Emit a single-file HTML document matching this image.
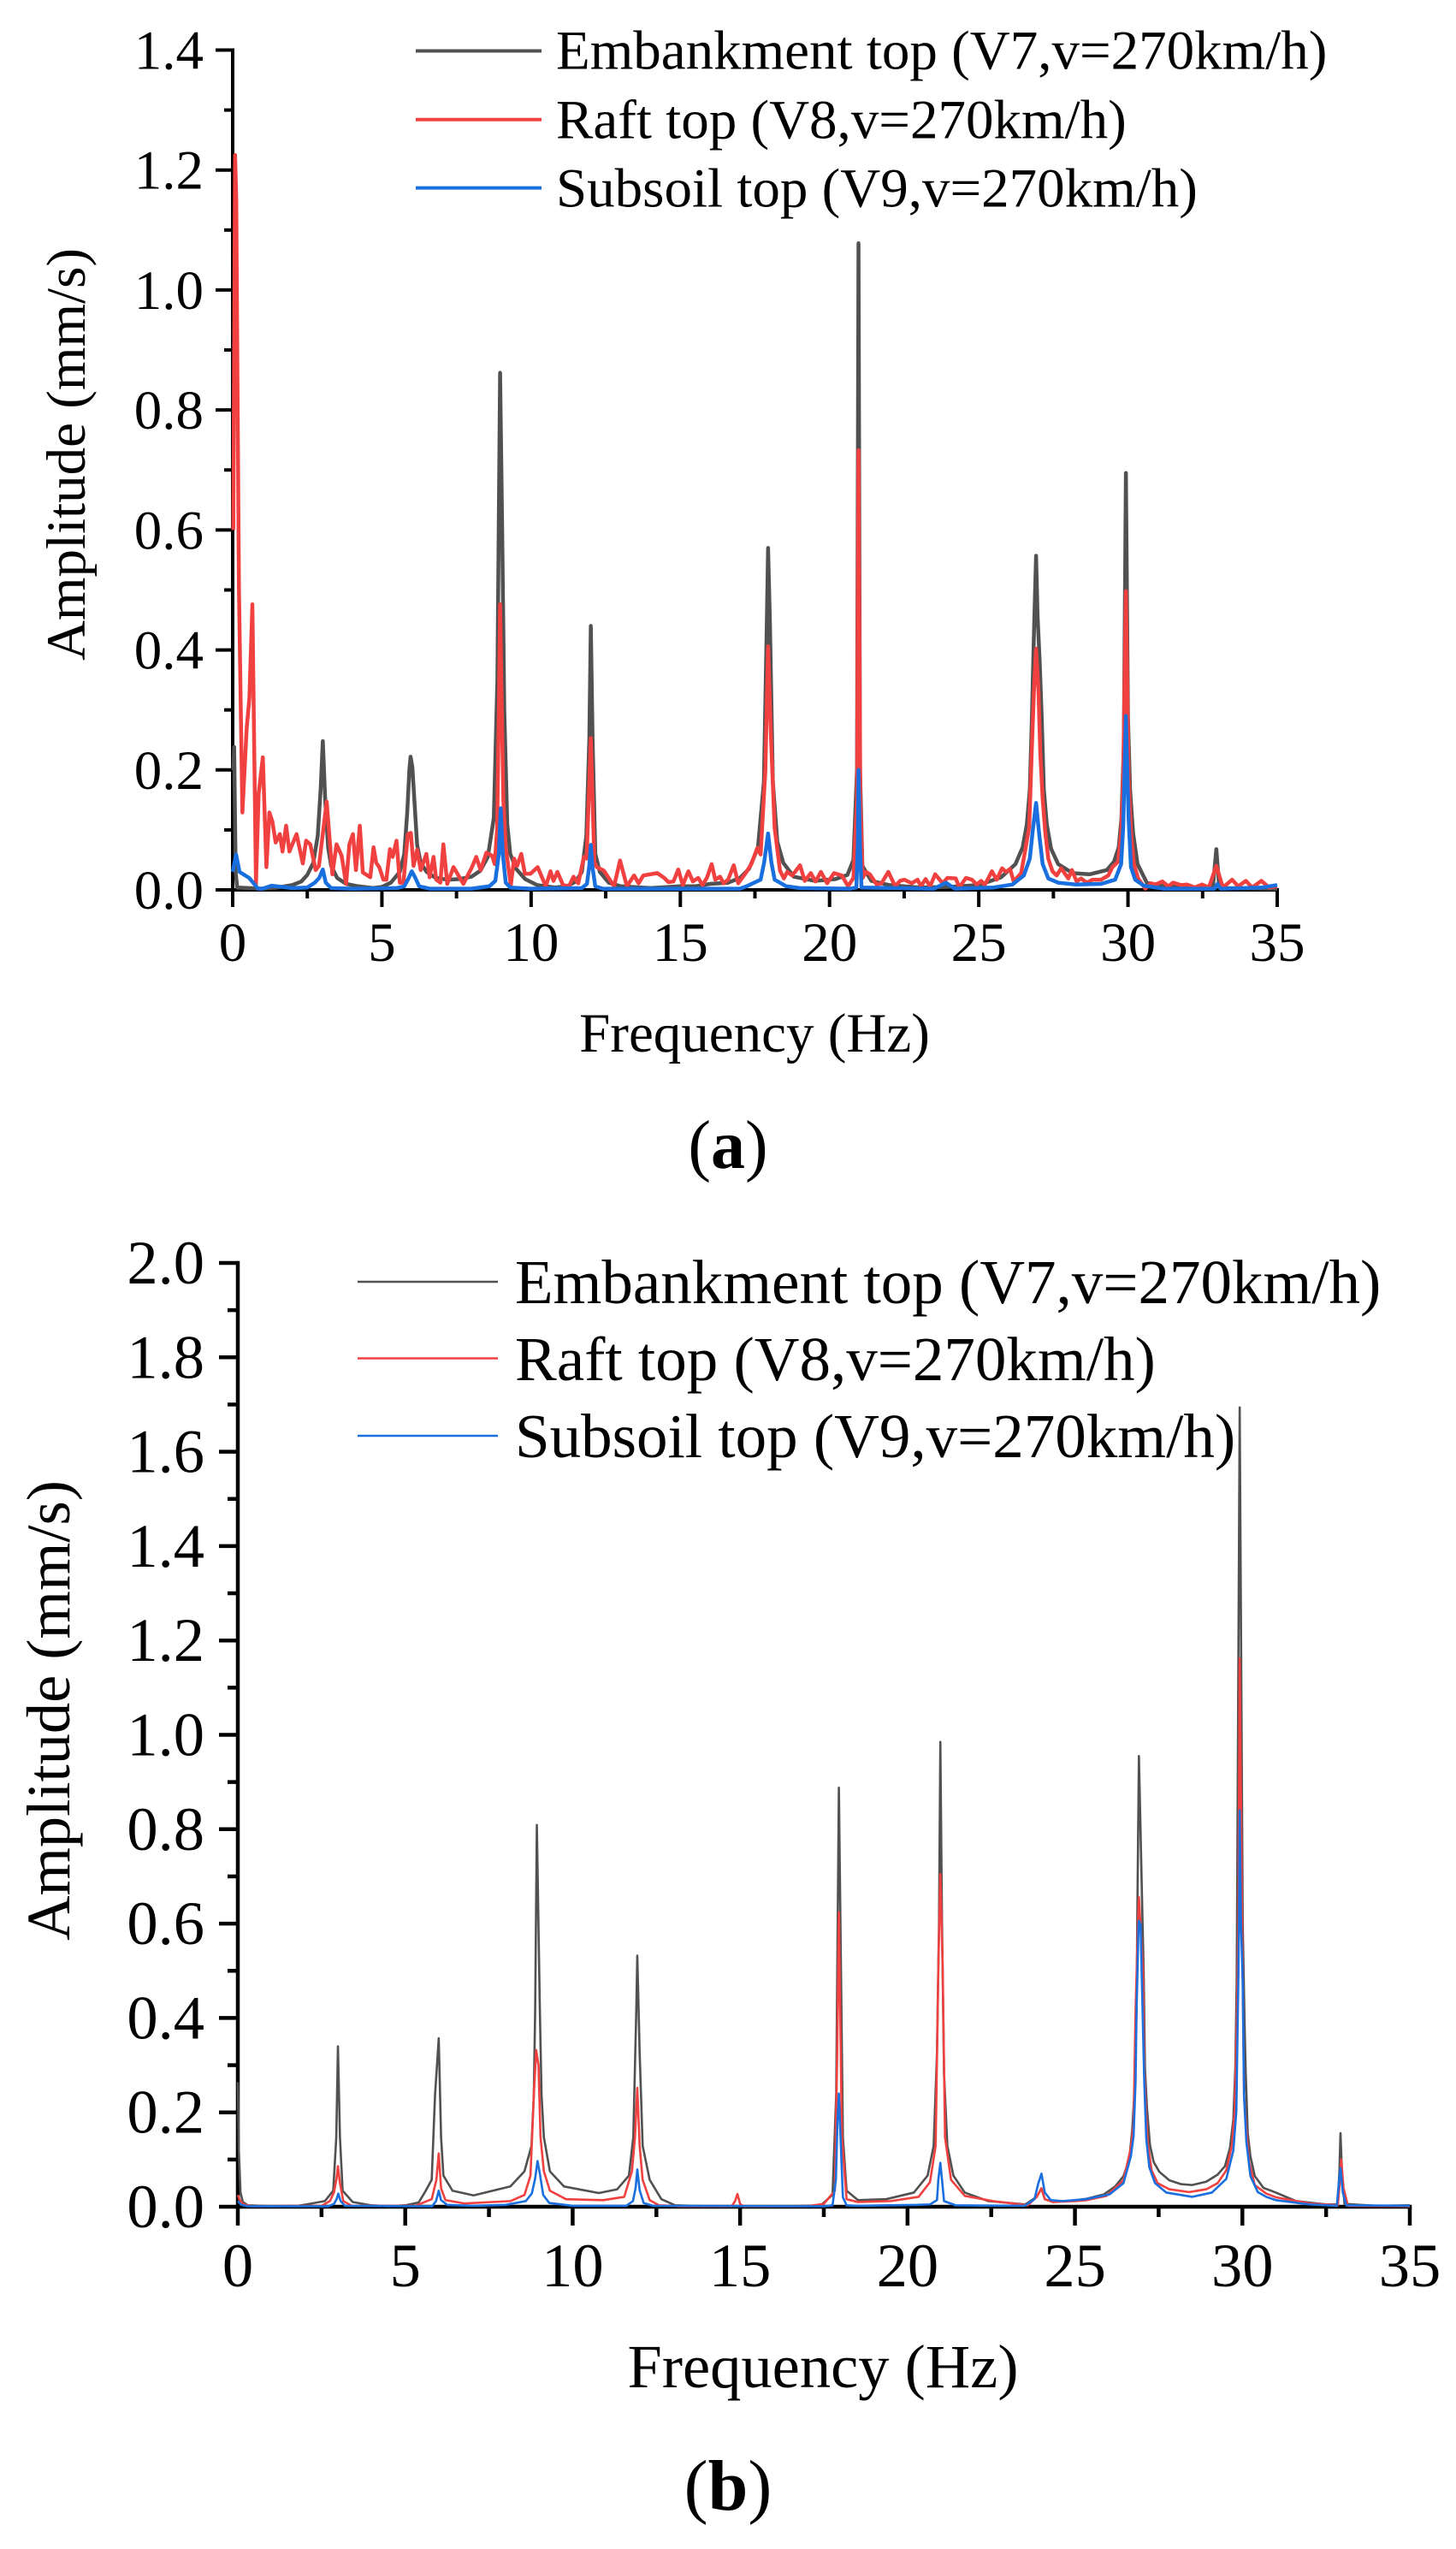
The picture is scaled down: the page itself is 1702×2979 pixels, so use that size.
<!DOCTYPE html>
<html lang="en">
<head>
<meta charset="utf-8">
<title>Amplitude spectra at V7, V8 and V9</title>
<style>
html,body{margin:0;padding:0;background:#fff;}
svg{display:block;}
text{font-family:"Liberation Serif",serif;fill:#000;}
</style>
</head>
<body>
<svg id="figure" xmlns="http://www.w3.org/2000/svg" width="1702" height="2979" viewBox="0 0 1702 2979">
  <rect width="1702" height="2979" fill="#ffffff"/>

  <g id="panel-a">
    <g id="axes-a"></g>
    <g id="series-a"></g>
    <text transform="translate(99,531) rotate(-90)" text-anchor="middle" font-size="65">Amplitude (mm/s)</text>
    <text x="882" y="1229" text-anchor="middle" font-size="65">Frequency (Hz)</text>
    <g>
      <line x1="486" x2="633" y1="59.5" y2="59.5" stroke="#515151" stroke-width="4"/>
      <text x="650" y="80.5" font-size="65">Embankment top (V7,v=270km/h)</text>
      <line x1="486" x2="633" y1="139.7" y2="139.7" stroke="#F14040" stroke-width="4"/>
      <text x="650" y="161.5" font-size="65">Raft top (V8,v=270km/h)</text>
      <line x1="486" x2="633" y1="219.6" y2="219.6" stroke="#1A6FDF" stroke-width="4"/>
      <text x="650" y="241.5" font-size="65">Subsoil top (V9,v=270km/h)</text>
    </g>
    <text x="851" y="1365" text-anchor="middle" font-size="80">(<tspan font-weight="bold">a</tspan>)</text>
  </g>

  <g id="panel-b">
    <g id="axes-b"></g>
    <g id="series-b"></g>
    <text transform="translate(81,1999) rotate(-90)" text-anchor="middle" font-size="72.5">Amplitude (mm/s)</text>
    <text x="962" y="2790" text-anchor="middle" font-size="72.5">Frequency (Hz)</text>
    <g>
      <line x1="418" x2="582" y1="1498" y2="1498" stroke="#515151" stroke-width="2.6"/>
      <text x="602" y="1523" font-size="73">Embankment top (V7,v=270km/h)</text>
      <line x1="418" x2="582" y1="1587.5" y2="1587.5" stroke="#F14040" stroke-width="2.6"/>
      <text x="602" y="1613" font-size="73">Raft top (V8,v=270km/h)</text>
      <line x1="418" x2="582" y1="1678" y2="1678" stroke="#1A6FDF" stroke-width="2.6"/>
      <text x="602" y="1703" font-size="73">Subsoil top (V9,v=270km/h)</text>
    </g>
    <text x="851" y="2933" text-anchor="middle" font-size="84">(<tspan font-weight="bold">b</tspan>)</text>
  </g>
</svg>
<script>
/* ---------- tick labels ---------- */
const xTickValues = [0, 5, 10, 15, 20, 25, 30, 35];
const xTickLabels = ["0", "5", "10", "15", "20", "25", "30", "35"];
const xMinorValues = [2.5, 7.5, 12.5, 17.5, 22.5, 27.5, 32.5];
const yTickValuesA = [0, 0.2, 0.4, 0.6, 0.8, 1.0, 1.2, 1.4];
const yTickLabelsA = ["0.0", "0.2", "0.4", "0.6", "0.8", "1.0", "1.2", "1.4"];
const yMinorValuesA = [0.1, 0.3, 0.5, 0.7, 0.9, 1.1, 1.3];
const yTickValuesB = [0, 0.2, 0.4, 0.6, 0.8, 1.0, 1.2, 1.4, 1.6, 1.8, 2.0];
const yTickLabelsB = ["0.0", "0.2", "0.4", "0.6", "0.8", "1.0", "1.2", "1.4", "1.6", "1.8", "2.0"];
const yMinorValuesB = [0.1, 0.3, 0.5, 0.7, 0.9, 1.1, 1.3, 1.5, 1.7, 1.9];

/* ---------- panel (a) series, frequency in Hz / amplitude in mm/s ---------- */
const embankmentAFreq = [0.02,0.05,0.1,0.15,1,1.5,2,2.3,2.5,2.7,2.85,2.95,3.02,3.1,3.2,3.3,3.5,3.8,4.2,4.7,5,5.3,5.6,5.75,5.85,5.92,5.96,6.02,6.1,6.18,6.3,6.5,6.8,7.2,7.6,8,8.3,8.55,8.75,8.87,8.96,9.03,9.1,9.2,9.3,9.5,9.8,10.2,10.8,11.2,11.5,11.7,11.85,11.95,12,12.06,12.15,12.3,12.6,13,14,15,15.5,16,16.6,17,17.3,17.6,17.8,17.9,17.94,18,18.1,18.25,18.45,18.8,19.5,20.2,20.6,20.8,20.92,20.97,21.02,21.1,21.4,22,23,24,
  25,25.75,26.23,26.47,26.61,26.71,26.78,26.85,26.92,26.97,27.04,27.11,27.18,27.28,27.42,27.66,28.14,28.71,29.29,29.53,29.69,29.78,29.86,29.93,30,30.07,30.17,30.32,30.63,31.2,
  32,32.7,32.85,32.96,33.05,33.2,35];
const embankmentAAmp = [0.2,0.238,0.03,0.004,0.002,0.004,0.008,0.014,0.025,0.045,0.09,0.17,0.248,0.15,0.07,0.04,0.02,0.01,0.006,0.003,0.005,0.012,0.03,0.06,0.13,0.2,0.222,0.205,0.14,0.075,0.045,0.03,0.02,0.017,0.018,0.022,0.032,0.055,0.12,0.35,0.862,0.6,0.3,0.11,0.06,0.035,0.018,0.008,0.004,0.006,0.014,0.03,0.09,0.25,0.44,0.25,0.06,0.03,0.012,0.006,0.003,0.006,0.006,0.01,0.012,0.02,0.035,0.07,0.18,0.45,0.57,0.45,0.18,0.08,0.045,0.022,0.015,0.018,0.025,0.05,0.2,1.078,0.2,0.04,0.015,0.008,0.004,0.005,
  0.008,0.021,0.043,0.071,0.109,0.167,0.286,0.429,0.557,0.457,0.381,0.286,0.167,0.109,0.069,0.043,0.028,0.026,0.033,0.047,0.071,0.119,0.238,0.695,0.286,0.167,0.095,0.043,0.012,0.006,
  0.004,0.004,0.008,0.068,0.01,0.003,0.002];

const raftAFreq = [0.02,0.08,0.12,0.16,0.21,0.325,0.47,0.56,0.66,0.78,0.87,1.01,1.13,1.23,1.33,1.44,1.58,1.67,1.79,1.9,2.14,2.35,2.46,2.6,2.78,2.89,3.15,3.34,3.48,3.65,3.8,3.91,4.03,4.13,4.26,4.36,4.61,4.72,4.81,4.91,5.05,5.15,5.27,5.36,5.49,5.6,5.72,5.87,5.97,6.06,6.18,6.3,6.49,6.6,6.73,6.82,6.96,7.06,7.19,7.4,7.73,8.02,8.16,8.31,8.5,8.69,
  8.78,8.86,8.92,8.96,9,9.07,9.15,9.32,
  9.43,9.53,9.67,9.79,9.98,10.22,10.49,10.65,10.75,10.88,11.07,11.27,11.42,11.58,11.77,11.86,12,12.12,12.2,12.44,12.78,12.98,13.21,13.45,13.6,13.76,14.23,14.46,14.6,14.77,14.93,15.08,15.27,15.42,15.6,15.74,15.89,16.05,16.17,16.33,16.45,16.6,16.79,16.94,17.19,17.38,17.58,17.69,17.85,17.94,18.04,18.16,18.34,18.47,18.58,18.75,19.01,19.17,19.37,19.53,19.71,19.92,20.15,20.41,20.62,20.8,20.92,20.97,21.03,21.11,21.22,21.35,21.58,21.74,21.97,22.2,22.36,22.51,22.75,22.95,23.06,23.22,23.37,23.54,23.79,23.95,24.23,24.35,24.57,24.77,24.93,25.08,25.2,25.44,25.6,25.78,25.91,26.05,26.17,
  26.42,26.56,26.69,26.78,26.85,26.92,27,27.06,27.14,27.23,27.33,27.47,27.61,27.76,28,28.12,28.28,28.43,28.62,28.81,29.1,29.34,29.48,29.67,29.77,29.84,29.93,30.02,30.1,30.2,30.34,30.58,
  30.76,30.92,31.15,31.35,31.51,31.78,31.98,32.24,32.48,32.71,32.96,33.18,33.49,33.69,33.95,34.16,34.47,34.73,35];
const raftAAmp = [0.6,1.225,1.15,0.85,0.5,0.129,0.27,0.32,0.476,0.01,0.16,0.221,0.038,0.129,0.114,0.079,0.093,0.064,0.107,0.064,0.093,0.044,0.082,0.076,0.033,0.04,0.147,0.026,0.076,0.057,0.01,0.076,0.093,0.033,0.107,0.029,0.021,0.071,0.045,0.038,0.017,0.017,0.068,0.055,0.082,0.012,0.012,0.093,0.095,0.04,0.067,0.033,0.06,0.021,0.055,0.017,0.012,0.076,0.01,0.038,0.01,0.038,0.055,0.033,0.062,0.057,
  0.043,0.1,0.3,0.476,0.35,0.15,0.07,0.008,
  0.052,0.04,0.06,0.027,0.027,0.038,0.006,0.031,0.015,0.03,0.008,0.006,0.022,0.011,0.055,0.052,0.253,0.046,0.038,0.032,0.006,0.049,0.006,0.024,0.011,0.024,0.028,0.02,0.013,0.014,0.034,0.008,0.031,0.014,0.02,0.008,0.02,0.043,0.017,0.022,0.011,0.017,0.041,0.011,0.028,0.043,0.07,0.059,0.2,0.406,0.25,0.103,0.032,0.019,0.03,0.024,0.041,0.015,0.028,0.014,0.03,0.011,0.028,0.024,0.006,0.02,0.15,0.733,0.15,0.02,0.03,0.026,0.009,0.011,0.03,0.006,0.015,0.017,0.011,0.017,0.006,0.018,0.006,0.026,0.011,0.02,0.019,0.004,0.02,0.017,0.009,0.015,0.008,0.031,0.017,0.036,0.03,0.035,0.014,
  0.028,0.067,0.105,0.238,0.333,0.402,0.333,0.229,0.152,0.095,0.052,0.031,0.024,0.036,0.019,0.033,0.014,0.019,0.012,0.017,0.017,0.024,0.038,0.047,0.095,0.19,0.498,0.19,0.095,0.043,0.019,0.002,
  0.011,0.009,0.014,0.006,0.012,0.008,0.009,0.004,0.009,0.004,0.04,0.004,0.017,0.006,0.015,0.004,0.015,0.004,0.006];

const subsoilAFreq = [0,0.115,0.23,0.55,0.85,1,1.3,2,2.5,2.75,2.9,3.02,3.12,3.3,4,5.5,5.75,5.9,6,6.1,6.25,6.6,8,8.6,8.8,8.92,8.98,9.05,9.15,9.3,10,11.7,11.87,11.95,12,12.05,12.15,12.4,
  17,17.22,17.69,17.81,17.94,18.05,18.16,18.55,19,
  20.7,20.9,20.95,20.97,21.02,21.07,23.5,23.9,24.2,
  25.5,26.13,26.51,26.71,26.8,26.92,27.02,27.14,27.33,27.66,28.24,29.1,29.57,29.77,29.84,29.93,30.02,30.1,30.24,30.53,31.2,
  32.9,33,33.1,34.5,35];
const subsoilAAmp = [0.03,0.059,0.03,0.02,0.002,0.002,0.007,0.003,0.004,0.012,0.02,0.034,0.012,0.003,0.002,0.003,0.006,0.02,0.031,0.022,0.006,0.002,0.002,0.006,0.015,0.06,0.136,0.06,0.012,0.004,0.002,0.003,0.01,0.04,0.075,0.04,0.006,0.002,
  0.002,0.006,0.017,0.046,0.094,0.046,0.017,0.006,0.003,
  0.002,0.004,0.08,0.2,0.07,0.004,0.002,0.012,0.002,
  0.004,0.009,0.024,0.052,0.095,0.145,0.095,0.043,0.019,0.012,0.009,0.01,0.017,0.043,0.105,0.29,0.119,0.038,0.017,0.007,0.002,
  0.002,0.01,0.002,0.004,0.008];

/* ---------- panel (b) series ---------- */
const embankmentBFreq = [0,0.03,0.08,0.15,0.3,1,1.8,
  2.05,2.6,2.85,2.94,2.99,3.05,3.13,3.43,3.99,4.5,
  5,5.4,5.58,5.79,5.89,6,6.07,6.14,6.41,7.04,
  8.14,8.56,8.77,8.84,8.88,8.93,9.02,9.07,9.14,9.32,9.74,
  10.78,11.33,11.68,11.81,11.9,11.93,12,12.09,12.3,12.65,13.06,
  14,16.5,
  17.41,17.76,17.87,17.95,18.07,18.18,18.52,19.36,
  20.19,20.6,20.78,20.88,20.94,20.98,21.03,21.09,21.19,21.37,21.71,22.41,23.52,
  23.86,24,24.1,24.35,25.04,25.35,25.86,
  26.2,26.45,26.62,26.71,26.77,26.84,26.86,26.91,27.02,27.05,27.09,27.15,27.24,27.35,27.52,27.82,28.16,28.5,28.92,29.26,29.48,29.63,29.73,29.79,29.83,29.84,29.92,30.01,30.07,30.1,30.16,30.24,30.37,30.63,31,31.6,32.5,32.85,
  32.9,32.93,32.97,33.05,34,35];
const embankmentBAmp = [0.264,0.12,0.03,0.01,0.003,0.001,0.002,
  0.005,0.012,0.034,0.147,0.34,0.147,0.034,0.01,0.003,0.001,
  0.003,0.009,0.03,0.057,0.237,0.357,0.147,0.066,0.034,0.024,
  0.043,0.075,0.129,0.237,0.417,0.809,0.417,0.237,0.147,0.075,0.043,
  0.029,0.037,0.066,0.147,0.417,0.532,0.327,0.129,0.057,0.016,0.003,
  0.001,0.001,
  0.003,0.025,0.237,0.888,0.147,0.034,0.014,0.016,
  0.03,0.066,0.129,0.327,0.597,0.985,0.597,0.282,0.129,0.066,0.03,0.012,0.005,
  0.021,0.039,0.016,0.01,0.014,0.017,0.026,
  0.043,0.065,0.1,0.162,0.234,0.415,0.597,0.955,0.597,0.506,0.294,0.21,0.131,0.095,0.074,0.056,0.048,0.046,0.053,0.068,0.086,0.125,0.185,0.294,0.476,0.597,1.694,0.597,0.373,0.282,0.156,0.107,0.065,0.04,0.03,0.012,0.005,0.005,
  0.08,0.156,0.08,0.006,0.002,0.003];

const raftBFreq = [0,0.05,0.15,0.4,2.5,2.75,2.87,2.95,2.99,3.05,3.15,3.4,
  5.3,5.79,5.93,6,6.07,6.2,6.76,
  8.14,8.56,8.74,8.84,8.91,8.98,9.04,9.14,9.32,9.8,10.91,11.54,11.77,11.86,11.93,12,12.09,12.3,12.58,13.2,
  14.75,14.85,14.92,15,15.1,17,
  17.5,17.83,17.9,17.95,18.04,18.18,18.52,19.5,20.33,20.67,20.84,20.92,20.98,21.05,21.12,21.3,21.71,22.55,23.59,
  23.86,24,24.1,24.35,25.04,25.35,25.94,
  26.45,26.67,26.75,26.81,26.88,26.91,27.03,27.07,27.12,27.18,27.29,27.47,27.82,28.41,28.92,29.26,29.52,29.69,29.77,29.84,29.88,29.92,29.99,30.05,30.12,30.2,30.37,30.71,31,32,32.85,
  32.92,32.95,33.02,33.15,35];
const raftBAmp = [0.025,0.015,0.006,0.001,0.002,0.012,0.03,0.06,0.086,0.05,0.012,0.002,
  0.002,0.016,0.057,0.113,0.039,0.014,0.007,
  0.012,0.025,0.066,0.237,0.332,0.3,0.147,0.075,0.034,0.016,0.014,0.021,0.075,0.147,0.252,0.129,0.057,0.014,0.003,0.001,
  0.001,0.012,0.027,0.006,0.001,0.001,
  0.006,0.034,0.327,0.624,0.147,0.016,0.01,0.012,0.021,0.052,0.129,0.507,0.705,0.507,0.147,0.057,0.023,0.012,0.003,
  0.021,0.039,0.016,0.01,0.012,0.014,0.023,
  0.056,0.125,0.174,0.415,0.597,0.656,0.506,0.294,0.203,0.131,0.077,0.05,0.037,0.031,0.037,0.05,0.077,0.131,0.203,0.415,0.597,1.162,0.597,0.234,0.162,0.095,0.046,0.028,0.02,0.007,0.003,
  0.06,0.1,0.04,0.002,0.001];

const subsoilBFreq = [0,0.1,0.3,2.7,2.87,2.95,3,3.07,3.2,5.8,5.92,6,6.07,6.25,7,8,
  8.6,8.78,8.88,8.95,9.02,9.12,9.3,10,11.6,11.8,11.88,11.93,12,12.12,12.4,
  17.5,17.76,17.86,17.91,17.95,18,18.07,18.18,18.5,
  20.3,20.67,20.88,20.92,20.98,21.03,21.09,21.44,23.5,
  23.79,23.9,24,24.1,24.28,24.63,25.32,26.03,
  26.45,26.67,26.75,26.81,26.84,26.9,26.91,26.96,27.01,27.07,27.13,27.22,27.39,27.73,28.5,29.09,29.52,29.73,29.82,29.88,29.9,29.92,29.96,30.01,30.05,30.12,30.24,30.46,30.71,31,32,32.82,
  32.88,32.93,33,33.1,35];
const subsoilBAmp = [0.012,0.004,0.001,0.001,0.006,0.016,0.028,0.012,0.002,0.001,0.012,0.034,0.014,0.004,0.002,0.004,
  0.012,0.028,0.06,0.097,0.07,0.025,0.008,0.002,0.002,0.012,0.04,0.079,0.035,0.008,0.002,
  0.001,0.003,0.057,0.183,0.24,0.147,0.02,0.003,0.002,
  0.004,0.005,0.014,0.057,0.093,0.057,0.012,0.003,0.002,
  0.016,0.048,0.07,0.03,0.014,0.012,0.016,0.026,
  0.05,0.107,0.15,0.265,0.415,0.597,0.606,0.597,0.445,0.265,0.144,0.084,0.05,0.03,0.021,0.03,0.059,0.119,0.203,0.488,0.597,0.84,0.597,0.476,0.234,0.137,0.065,0.031,0.021,0.014,0.005,0.002,
  0.05,0.082,0.03,0.003,0.002];

/* ---------- axis functions ---------- */
const NS = 'http://www.w3.org/2000/svg';
const xMax = 35;
function scaleX(p, f) { return p.left + f / xMax * (p.right - p.left); }
function scaleY(p, a) { return p.bottom - a / p.yMax * (p.bottom - p.top); }

const frameA = { left: 272, right: 1493, bottom: 1040, top: 58.5, yMax: 1.4, font: 65, labelRight: 238, yLabelDrop: 22, xLabelBase: 1123, major: 20, minor: 10, axisW: 4, lineW: 4.5 };
const frameB = { left: 278, right: 1648, bottom: 2579, top: 1476, yMax: 2.0, font: 72.5, labelRight: 239, yLabelDrop: 24, xLabelBase: 2672, major: 22, minor: 12, axisW: 4.5, lineW: 2.6 };

function addLine(parent, x1, y1, x2, y2, width, name) {
  const el = document.createElementNS(NS, 'line');
  el.setAttribute('x1', x1);
  el.setAttribute('y1', y1);
  el.setAttribute('x2', x2);
  el.setAttribute('y2', y2);
  el.setAttribute('stroke', '#000');
  el.setAttribute('stroke-width', width);
  
  
  parent.appendChild(el);
}

function addLabel(parent, x, y, anchor, size, content, name) {
  const el = document.createElementNS(NS, 'text');
  el.setAttribute('x', x);
  el.setAttribute('y', y);
  el.setAttribute('text-anchor', anchor);
  el.setAttribute('font-size', size);
  el.textContent = content;
  
  
  parent.appendChild(el);
}

function drawAxes(p, groupId, suffix, yVals, yLabels, yMinor) {
  const g = document.getElementById(groupId);
  const half = p.axisW / 2;
  addLine(g, p.left, p.top - half, p.left, p.bottom + half, p.axisW, 'y-axis-line-' + suffix);
  addLine(g, p.left - half, p.bottom, p.right + half, p.bottom, p.axisW, 'x-axis-line-' + suffix);
  xTickValues.forEach(function (v, i) {
    const x = scaleX(p, v);
    addLine(g, x, p.bottom, x, p.bottom + p.major, p.axisW, 'x-tick-' + suffix);
    addLabel(g, x, p.xLabelBase, 'middle', p.font, xTickLabels[i], 'x-tick-label-' + suffix);
  });
  xMinorValues.forEach(function (v) {
    const x = scaleX(p, v);
    addLine(g, x, p.bottom, x, p.bottom + p.minor, p.axisW, 'x-minor-tick-' + suffix);
  });
  yVals.forEach(function (v, i) {
    const y = scaleY(p, v);
    addLine(g, p.left - p.major, y, p.left, y, p.axisW, 'y-tick-' + suffix);
    addLabel(g, p.labelRight, y + p.yLabelDrop, 'end', p.font, yLabels[i], 'y-tick-label-' + suffix);
  });
  yMinor.forEach(function (v) {
    const y = scaleY(p, v);
    addLine(g, p.left - p.minor, y, p.left, y, p.axisW, 'y-minor-tick-' + suffix);
  });
}

function drawSeries(p, groupId, freq, amp, color, name) {
  const g = document.getElementById(groupId);
  const pts = freq.map(function (f, i) {
    return scaleX(p, f).toFixed(2) + ',' + scaleY(p, amp[i]).toFixed(2);
  });
  const el = document.createElementNS(NS, 'polyline');
  el.setAttribute('points', pts.join(' '));
  el.setAttribute('fill', 'none');
  el.setAttribute('stroke', color);
  el.setAttribute('stroke-width', p.lineW);
  el.setAttribute('stroke-linejoin', 'round');
  
  
  g.appendChild(el);
}

drawAxes(frameA, 'axes-a', 'a', yTickValuesA, yTickLabelsA, yMinorValuesA);
drawSeries(frameA, 'series-a', embankmentAFreq, embankmentAAmp, '#515151', 'embankment-line-a');
drawSeries(frameA, 'series-a', raftAFreq, raftAAmp, '#F14040', 'raft-line-a');
drawSeries(frameA, 'series-a', subsoilAFreq, subsoilAAmp, '#1A6FDF', 'subsoil-line-a');

drawAxes(frameB, 'axes-b', 'b', yTickValuesB, yTickLabelsB, yMinorValuesB);
drawSeries(frameB, 'series-b', embankmentBFreq, embankmentBAmp, '#515151', 'embankment-line-b');
drawSeries(frameB, 'series-b', raftBFreq, raftBAmp, '#F14040', 'raft-line-b');
drawSeries(frameB, 'series-b', subsoilBFreq, subsoilBAmp, '#1A6FDF', 'subsoil-line-b');
</script>
</body>
</html>
